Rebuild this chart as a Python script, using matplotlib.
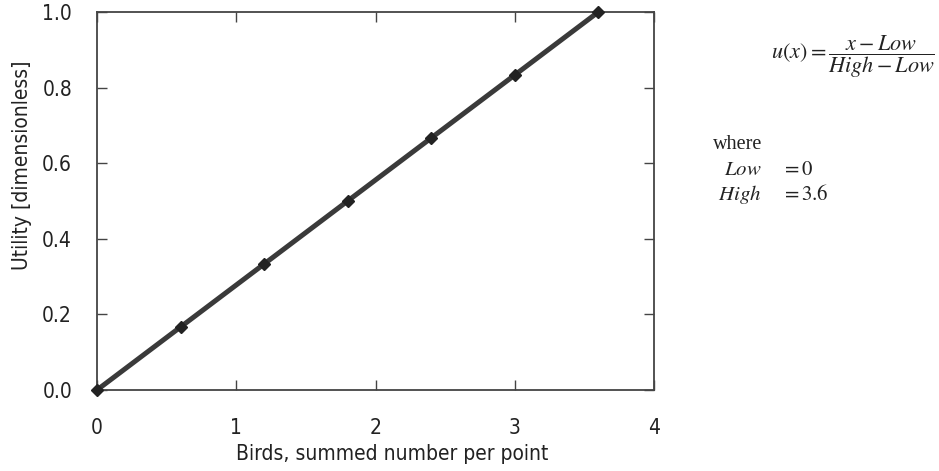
import matplotlib
matplotlib.use("Agg")
import matplotlib.pyplot as plt

birds = [0.0, 0.6, 1.2, 1.8, 2.4, 3.0, 3.6]
utility = [0.0, 0.1667, 0.3333, 0.5, 0.6667, 0.8333, 1.0]
xticks = [0, 1, 2, 3, 4]
yticks = [0.0, 0.2, 0.4, 0.6, 0.8, 1.0]

plt.rcParams['font.family'] = ['DejaVu Sans']
plt.rcParams['font.stretch'] = 'condensed'
plt.rcParams['mathtext.fontset'] = 'stix'

fig = plt.figure(figsize=(9.39, 4.71), dpi=100)
ax = fig.add_axes([97/939, 1-390/471, (654-97)/939, (390-12)/471])

ax.plot(birds, utility, color='#3a3a3a', lw=3.6, marker='D', ms=6.5,
        mfc='#222222', mec='#222222', zorder=3, clip_on=False)

ax.set_xlim(0, 4)
ax.set_ylim(0, 1.0)
ax.set_xticks(xticks)
ax.set_yticks(yticks)
ax.set_xticklabels([str(t) for t in xticks])
ax.set_yticklabels([f"{t:.1f}" for t in yticks])
ax.tick_params(direction='in', length=7, width=1, color='#444444',
               top=True, right=True, labelsize=15, labelcolor='#222222')
ax.tick_params(axis='x', pad=20)
ax.tick_params(axis='y', pad=18)
for s in ax.spines.values():
    s.set_linewidth(1.3)
    s.set_color('#444444')

ax.set_xlabel('Birds, summed number per point', fontsize=15, color='#222222')
ax.set_ylabel('Utility [dimensionless]', fontsize=15, color='#222222')
ax.xaxis.set_label_coords((392-97)/557, (390-444)/378)
ax.yaxis.set_label_coords((32-97)/557, (390-165)/378)

fig.text(853/939, 1-57/471, r'$u\left(x\right)=\dfrac{x-Low}{High-Low}$',
         fontsize=16, ha='center', va='center', color='#222222')
fig.text(713/939, 1-145/471, 'where', family='Liberation Serif', fontsize=14.5,
         ha='left', va='center', color='#222222')
fig.text(724/939, 1-169/471, r'$Low$', fontsize=15, ha='left', va='center', color='#222222')
fig.text(781/939, 1-169/471, r'$=0$', fontsize=15, ha='left', va='center', color='#222222')
fig.text(718/939, 1-194/471, r'$High$', fontsize=15, ha='left', va='center', color='#222222')
fig.text(781/939, 1-194/471, r'$=3.6$', fontsize=15, ha='left', va='center', color='#222222')

fig.savefig('out.png', dpi=100, facecolor='white')
